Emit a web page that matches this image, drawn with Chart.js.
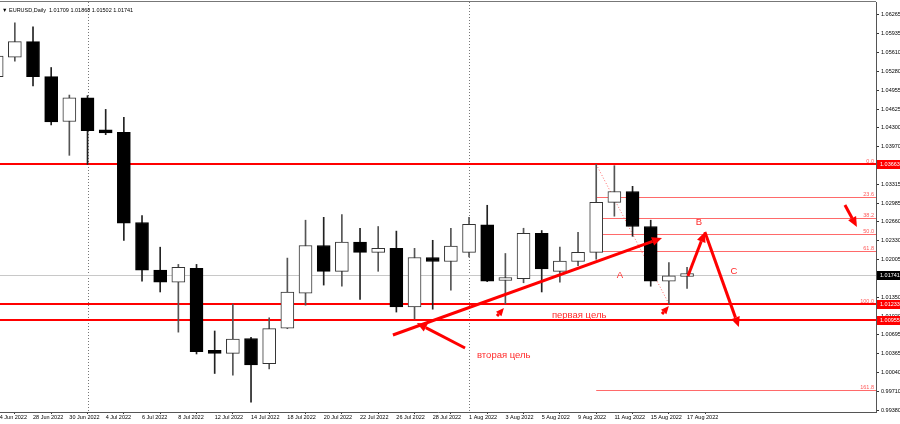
<!DOCTYPE html>
<html>
<head>
<meta charset="utf-8">
<script src="https://cdn.jsdelivr.net/npm/chart.js@4.4.1/dist/chart.umd.min.js"></script>
<style>
  html, body { margin: 0; padding: 0; background: #fff; }
  canvas { display: block; }
</style>
</head>
<body>
<canvas id="chart" width="900" height="424"></canvas>
<script>
// ===== DATA =====
const dates = [
  "24 Jun 2022", "27 Jun 2022", "28 Jun 2022", "29 Jun 2022", "30 Jun 2022",
  "1 Jul 2022", "4 Jul 2022", "5 Jul 2022", "6 Jul 2022", "7 Jul 2022",
  "8 Jul 2022", "11 Jul 2022", "12 Jul 2022", "13 Jul 2022", "14 Jul 2022",
  "15 Jul 2022", "18 Jul 2022", "19 Jul 2022", "20 Jul 2022", "21 Jul 2022",
  "22 Jul 2022", "25 Jul 2022", "26 Jul 2022", "27 Jul 2022", "28 Jul 2022",
  "29 Jul 2022", "1 Aug 2022", "2 Aug 2022", "3 Aug 2022", "4 Aug 2022",
  "5 Aug 2022", "8 Aug 2022", "9 Aug 2022", "10 Aug 2022", "11 Aug 2022",
  "12 Aug 2022", "15 Aug 2022", "16 Aug 2022", "17 Aug 2022",
];
const opens = [
  1.0519, 1.0553, 1.0580, 1.0519, 1.0441, 1.0482, 1.0423, 1.0422, 1.0265, 1.0182,
  1.0161, 1.0185, 1.0040, 1.0037, 1.0063, 1.0019, 1.0081, 1.0142, 1.0225, 1.0180,
  1.0231, 1.0213, 1.0220, 1.0118, 1.0204, 1.0197, 1.0213, 1.0261, 1.0164, 1.0167,
  1.0246, 1.0180, 1.0197, 1.0213, 1.0300, 1.0319, 1.0258, 1.0163, 1.01709,
];
const highs = [
  1.0571, 1.0613, 1.0606, 1.0535, 1.0487, 1.0486, 1.0462, 1.0448, 1.0277, 1.0222,
  1.0192, 1.0192, 1.0076, 1.0123, 1.0065, 1.0099, 1.0203, 1.0269, 1.0274, 1.0279,
  1.0255, 1.0258, 1.0250, 1.0220, 1.0234, 1.0255, 1.0274, 1.0295, 1.0211, 1.0255,
  1.0251, 1.0222, 1.0248, 1.03663, 1.0364, 1.0328, 1.0269, 1.0195, 1.01868,
];
const lows = [
  1.0512, 1.0546, 1.0503, 1.0435, 1.0382, 1.0366, 1.0418, 1.0234, 1.0163, 1.0144,
  1.0074, 1.0036, 1.0002, 0.9999, 0.9952, 1.0010, 1.0080, 1.0121, 1.0156, 1.0154,
  1.0131, 1.0180, 1.0109, 1.0097, 1.0114, 1.0147, 1.0205, 1.0162, 1.0123, 1.0160,
  1.0144, 1.0161, 1.0190, 1.0201, 1.0276, 1.0241, 1.0154, 1.01233, 1.01502,
];
const closes = [
  1.0555, 1.0580, 1.0519, 1.0440, 1.0482, 1.0425, 1.0421, 1.0264, 1.0182, 1.0161,
  1.0187, 1.0040, 1.0037, 1.0062, 1.0017, 1.0080, 1.0144, 1.0225, 1.0180, 1.0231,
  1.0213, 1.0220, 1.0118, 1.0204, 1.0197, 1.0224, 1.0262, 1.0163, 1.0167, 1.0246,
  1.0184, 1.0198, 1.0213, 1.0300, 1.0319, 1.0258, 1.0163, 1.0172, 1.01741,
];

// x labels every second bar, price scale labels as printed on the right
const xTickIdx = [0, 2, 4, 6, 8, 10, 12, 14, 16, 18, 20, 22, 24, 26, 28, 30, 32, 34, 36, 38];
const priceTicks = [
  1.06265, 1.05935, 1.0561, 1.0528, 1.04955, 1.04625, 1.043, 1.0397, 1.03315, 1.02985,
  1.0266, 1.0233, 1.02005, 1.0135, 1.0102, 1.00695, 1.00365, 1.0004, 0.9971, 0.9938,
];

// horizontal levels, bid, fibo
const levelPrices = [1.03663, 1.01233, 1.00955];
const bidPrice = 1.01741;
const monthStarts = [5, 26];
const fibStart = 33;
const fibHigh = 1.03663;
const fibLow = 1.01233;
const fibLevels = [0, 23.6, 38.2, 50, 61.8, 100, 161.8];

// hand-drawn arrows: [bar1, price1, bar2, price2]
const arrows = [
  [21.81, 1.0069, 36.62, 1.0238],
  [25.78, 1.00464, 23.13, 1.00899],
  [27.54, 1.01021, 27.92, 1.01161],
  [36.62, 1.01056, 37.0, 1.01195],
  [38.05, 1.01718, 38.98, 1.02485],
  [38.98, 1.02485, 40.85, 1.00829],
  [46.69, 1.02955, 47.35, 1.02572],
];
const notes = [
  { text: "A", bar: 34.3, price: 1.01735 },
  { text: "B", bar: 38.65, price: 1.02659 },
  { text: "C", bar: 40.58, price: 1.01805 },
  { text: "первая цель", bar: 30.56, price: 1.01038, left: true },
  { text: "вторая цель", bar: 26.44, price: 1.00342, left: true },
];
const header = "EURUSD,Daily  1.01709 1.01868 1.01502 1.01741";

const FONT = '"Liberation Sans", Arial, "DejaVu Sans", sans-serif';

// ===== HELPERS =====
function drawArrow(ctx, x1, y1, x2, y2) {
  const ang = Math.atan2(y2 - y1, x2 - x1);
  const len = Math.hypot(x2 - x1, y2 - y1);
  const head = Math.min(10, len * 0.75);
  const half = head * 0.45;
  const bx = x2 - head * Math.cos(ang);
  const by = y2 - head * Math.sin(ang);
  ctx.beginPath();
  ctx.moveTo(x1, y1);
  ctx.lineTo(bx, by);
  ctx.stroke();
  ctx.beginPath();
  ctx.moveTo(x2, y2);
  ctx.lineTo(bx + half * Math.sin(ang), by - half * Math.cos(ang));
  ctx.lineTo(bx - half * Math.sin(ang), by + half * Math.cos(ang));
  ctx.closePath();
  ctx.fill();
}

function hLine(ctx, x1, x2, py, color, width) {
  const yy = width % 2 ? Math.round(py) + 0.5 : Math.round(py);
  ctx.strokeStyle = color;
  ctx.lineWidth = width;
  ctx.beginPath();
  ctx.moveTo(x1, yy);
  ctx.lineTo(x2, yy);
  ctx.stroke();
}

function priceBox(ctx, a, py, text, bg) {
  ctx.fillStyle = bg;
  ctx.fillRect(a.right + 1, Math.round(py) - 4, 900 - a.right - 1, 9);
  ctx.fillStyle = "#fff";
  ctx.font = "5.5px " + FONT;
  ctx.textAlign = "left";
  ctx.textBaseline = "middle";
  ctx.fillText(text, a.right + 4, Math.round(py) + 0.5);
}

// ===== OVERLAY PLUGIN =====
const overlay = {
  id: "overlay",
  beforeDatasetsDraw(chart) {
    const { ctx, chartArea: a, scales: { x, y } } = chart;
    ctx.save();
    ctx.beginPath();
    ctx.rect(a.left, a.top, a.right - a.left, a.bottom - a.top);
    ctx.clip();

    // month separators
    ctx.strokeStyle = "#777";
    ctx.lineWidth = 1;
    ctx.setLineDash([1, 2]);
    monthStarts.forEach((i) => {
      const px = Math.round(x.getPixelForValue(i)) + 0.5;
      ctx.beginPath();
      ctx.moveTo(px, a.top);
      ctx.lineTo(px, a.bottom);
      ctx.stroke();
    });
    ctx.setLineDash([]);

    // bid line
    hLine(ctx, a.left, a.right, y.getPixelForValue(bidPrice), "#c8c8c8", 1);

    // fibo levels
    const fx = x.getPixelForValue(fibStart);
    const range = fibHigh - fibLow;
    fibLevels.forEach((lv) => {
      const py = y.getPixelForValue(fibHigh - (lv / 100) * range);
      hLine(ctx, fx, a.right, py, "#ff6a6a", 1);
      ctx.fillStyle = "#ff5a5a";
      ctx.font = "5.5px " + FONT;
      ctx.textAlign = "right";
      ctx.textBaseline = "alphabetic";
      ctx.fillText(lv.toFixed(1), a.right - 2, Math.round(py) - 1);
    });
    // fibo trend line
    ctx.strokeStyle = "#ff6a6a";
    ctx.setLineDash([1, 2]);
    ctx.beginPath();
    ctx.moveTo(fx, y.getPixelForValue(fibHigh));
    ctx.lineTo(x.getPixelForValue(37), y.getPixelForValue(fibLow));
    ctx.stroke();
    ctx.setLineDash([]);

    // red levels
    levelPrices.forEach((p) => hLine(ctx, a.left, a.right, y.getPixelForValue(p), "#ff0000", 2));
    ctx.restore();
  },
  afterDatasetsDraw(chart) {
    const { ctx, chartArea: a, scales: { x, y } } = chart;
    ctx.save();
    ctx.beginPath();
    ctx.rect(a.left, a.top, a.right - a.left, a.bottom - a.top);
    ctx.clip();

    // arrows
    ctx.strokeStyle = "#ff0000";
    ctx.fillStyle = "#ff0000";
    ctx.lineWidth = 3;
    ctx.lineCap = "butt";
    arrows.forEach(([b1, p1, b2, p2]) => {
      drawArrow(
        ctx,
        x.getPixelForValue(b1), y.getPixelForValue(p1),
        x.getPixelForValue(b2), y.getPixelForValue(p2),
      );
    });

    // notes
    ctx.fillStyle = "#ff2a2a";
    ctx.font = "9.5px " + FONT;
    ctx.textBaseline = "middle";
    notes.forEach((n) => {
      ctx.textAlign = n.left ? "left" : "center";
      ctx.fillText(n.text, x.getPixelForValue(n.bar), y.getPixelForValue(n.price));
    });
    ctx.restore();

    // header
    ctx.fillStyle = "#000";
    ctx.font = "5.5px " + FONT;
    ctx.textAlign = "left";
    ctx.textBaseline = "middle";
    ctx.fillText("▼", 2, 10);
    ctx.fillText(header, 9, 10);

    // frame top
    hLine(ctx, 0, a.right, a.top - 1, "#777", 1);
  },
  afterDraw(chart) {
    const { ctx, chartArea: a, scales: { y } } = chart;
    ctx.save();
    levelPrices.forEach((p) => priceBox(ctx, a, y.getPixelForValue(p), p.toFixed(5), "#ff0000"));
    priceBox(ctx, a, y.getPixelForValue(bidPrice), bidPrice.toFixed(5), "#000");
    ctx.restore();
  },
};

// ===== CHART =====
const bull = closes.map((c, i) => c >= opens[i]);
const bodies = dates.map((d, i) => ({ x: i, y: [opens[i], closes[i]] }));
const wicks = dates.map((d, i) => ({ x: i, y: [lows[i], highs[i]] }));

new Chart(document.getElementById("chart"), {
  type: "bar",
  data: {
    datasets: [
      {
        label: "body",
        data: bodies,
        order: 1,
        grouped: false,
        barThickness: 13,
        minBarLength: 3,
        backgroundColor: bull.map((b) => (b ? "#ffffff" : "#000000")),
        borderColor: bull.map((b) => (b ? "#333333" : "#000000")),
        borderWidth: 1,
        borderSkipped: false,
      },
      {
        label: "wick",
        data: wicks,
        order: 2,
        grouped: false,
        barThickness: 1,
        backgroundColor: bull.map((b) => (b ? "#555555" : "#222222")),
        borderWidth: 0,
      },
    ],
  },
  options: {
    responsive: false,
    animation: false,
    layout: { padding: { left: 0, right: 0, top: 2, bottom: 0 } },
    plugins: { legend: { display: false }, tooltip: { enabled: false } },
    scales: {
      x: {
        type: "linear",
        min: 0.183,
        max: 48.4,
        offset: false,
        afterBuildTicks: (s) => { s.ticks = xTickIdx.map((v) => ({ value: v })); },
        afterFit: (s) => {
          s.height = 12;
          s.paddingLeft = 0;
          s.paddingRight = 0;
        },
        grid: { drawOnChartArea: false, tickLength: 2, color: "#333" },
        border: { color: "#555" },
        ticks: {
          autoSkip: false,
          maxRotation: 0,
          align: "start",
          padding: 0,
          color: "#000",
          font: { size: 5.5, family: FONT },
          callback: (v) => dates[v] || "",
        },
      },
      y: {
        type: "linear",
        position: "right",
        min: 0.99349,
        max: 1.06491,
        afterBuildTicks: (s) => { s.ticks = priceTicks.map((v) => ({ value: v })); },
        afterFit: (s) => {
          s.width = 24;
          s.paddingTop = 0;
          s.paddingBottom = 0;
        },
        grid: { drawOnChartArea: false, tickLength: 3, color: "#333" },
        border: { color: "#555" },
        ticks: {
          padding: 2,
          color: "#000",
          font: { size: 5.5, family: FONT },
          callback: (v) => v.toFixed(5),
        },
      },
    },
  },
  plugins: [overlay],
});
</script>
</body>
</html>
